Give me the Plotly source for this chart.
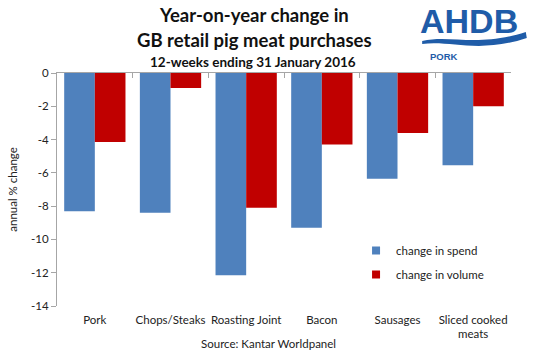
import plotly.graph_objects as go

categories = ["Pork", "Chops/Steaks", "Roasting Joint", "Bacon", "Sausages", "Sliced cooked<br>meats"]
spend = [-8.3, -8.4, -12.15, -9.3, -6.35, -5.55]
volume = [-4.15, -0.9, -8.1, -4.3, -3.6, -2.0]
y_ticks = [0, -2, -4, -6, -8, -10, -12, -14]

FONT = "Lato"
BLUE = "#4f81bd"
RED = "#c00000"
LOGO = "#1f5ca8"

W, H = 533, 354
L, R, T, B = 51, 22, 73, 48
pw, ph = W - L - R, H - T - B

def px(x):
    return (x - L) / pw

def py(y):
    return (H - B - y) / ph

fig = go.Figure()
fig.add_trace(go.Bar(x=categories, y=spend, name="change in spend", showlegend=False,
                     marker=dict(color=BLUE, line=dict(width=0))))
fig.add_trace(go.Bar(x=categories, y=volume, name="change in volume", showlegend=False,
                     marker=dict(color=RED, line=dict(width=0))))
# legend entries (small square keys)
fig.add_trace(go.Scatter(x=[None], y=[None], mode="markers", name="change in spend",
                         marker=dict(symbol="square", size=8, color=BLUE), legendgroup="a"))
fig.add_trace(go.Scatter(x=[None], y=[None], mode="markers", name="change in volume",
                         marker=dict(symbol="square", size=8, color=RED), legendgroup="b"))
# helper trace for the zero-line axis with boundary ticks
fig.add_trace(go.Scatter(x=categories, y=[0] * len(categories), xaxis="x2", mode="markers",
                         marker=dict(opacity=0), showlegend=False, hoverinfo="skip"))

fig.update_layout(
    width=W, height=H,
    margin=dict(l=L, r=R, t=T, b=B),
    paper_bgcolor="white", plot_bgcolor="white",
    barmode="group", bargap=0.19, bargroupgap=0,
    font=dict(family=FONT, size=11, color="#222222"),
    showlegend=True,
    legend=dict(x=px(354), y=py(236), xanchor="left", yanchor="top",
                font=dict(family=FONT, size=11.5, color="#222222"),
                bgcolor="rgba(0,0,0,0)", tracegroupgap=5, traceorder="grouped",
                itemwidth=30),
    xaxis=dict(type="category", showline=False, ticks="", showgrid=False,
               tickfont=dict(family=FONT, size=11.5, color="#222222"), ticklabelstandoff=5),
    xaxis2=dict(type="category", overlaying="x", side="top", anchor="y", showline=True,
                linecolor="#a6a6a6", linewidth=1, ticks="inside", ticklen=5, tickcolor="#a6a6a6",
                tickson="boundaries", showticklabels=False, showgrid=False, range=[-0.5, 5.5],
                categoryarray=categories, categoryorder="array"),
    yaxis=dict(range=[-14, 0], tickvals=y_ticks, ticktext=[str(v) for v in y_ticks],
               showline=True, linecolor="#a6a6a6", linewidth=1, ticks="outside", ticklen=5,
               tickcolor="#a6a6a6", showgrid=False, zeroline=False,
               tickfont=dict(family=FONT, size=11.5, color="#222222"),
               title=dict(text="annual % change", font=dict(family=FONT, size=11.5, color="#222222"),
                          standoff=11)),
)

def note(text, x, y, size, color="#111111", family=FONT):
    fig.add_annotation(text=text, xref="paper", yref="paper", x=px(x), y=py(y),
                       xanchor="center", yanchor="middle", showarrow=False,
                       font=dict(family=family, size=size, color=color))

# Titles
note("<b>Year-on-year change in</b>", 251, 15, 18.5)
note("<b>GB retail pig meat purchases</b>", 251, 40, 18.5)
note("<b>12-weeks ending 31 January 2016</b>", 250, 62, 13.5)
# Source
note("Source: Kantar Worldpanel", 265, 343, 11.5, "#222222")

# Logo
note("<b>AHDB</b>", 468, 21, 34, LOGO, "Liberation Sans")
note("<b>PORK</b>", 443, 56, 9.5, LOGO, "Liberation Sans")

def pt(x, y):
    return f"{px(x)},{py(y)}"

wave = ("M " + pt(421, 41) + " C " + pt(450, 34) + " " + pt(475, 48) + " " + pt(526, 32)
        + " L " + pt(527, 38) + " C " + pt(478, 54) + " " + pt(450, 40) + " " + pt(421, 44) + " Z")
fig.add_shape(type="path", path=wave, xref="paper", yref="paper",
              fillcolor=LOGO, line=dict(width=0))

fig.write_html("out.html")
